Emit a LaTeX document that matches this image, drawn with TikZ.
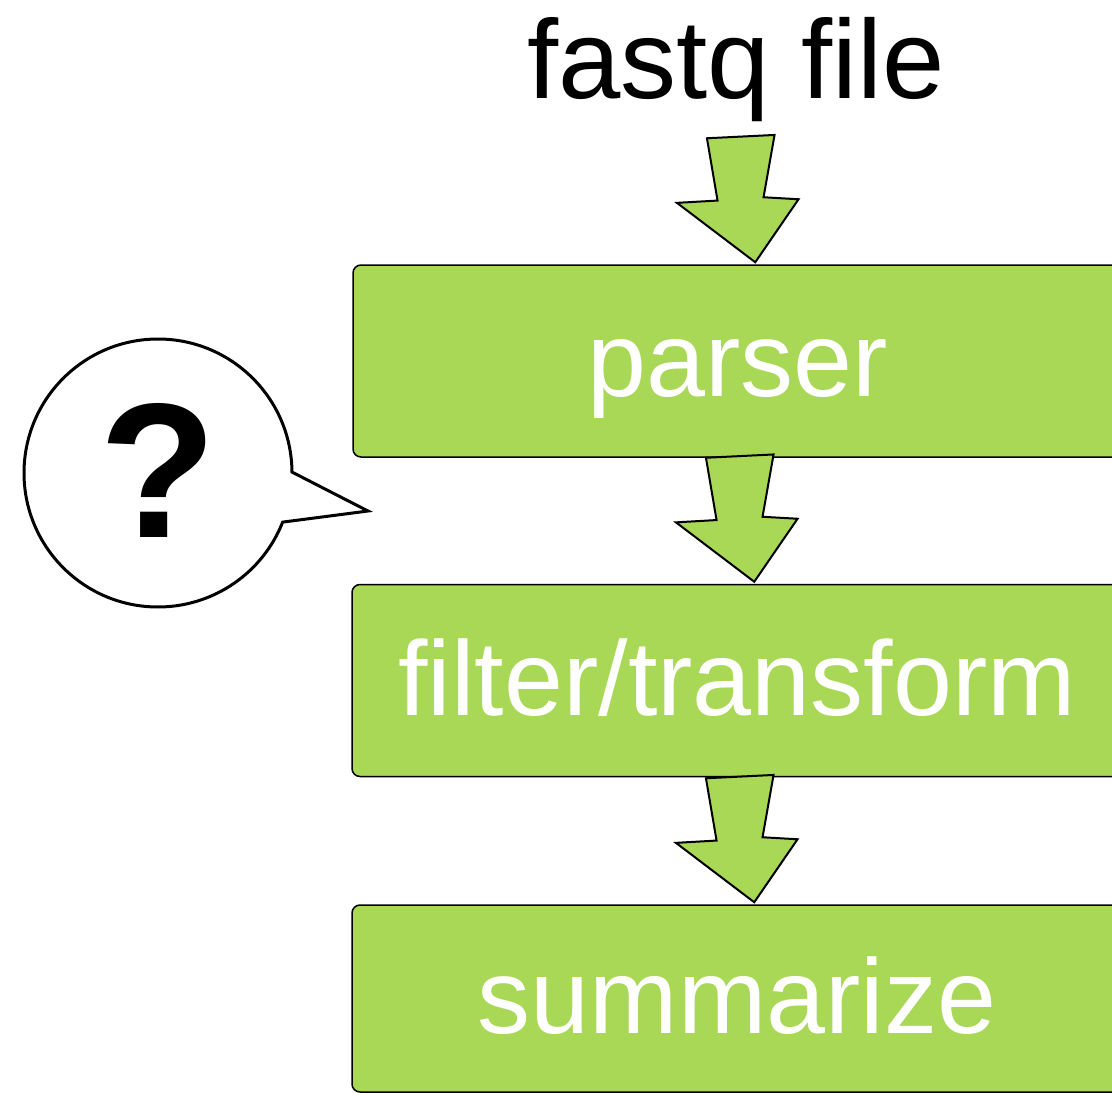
\documentclass[tikz,border=0pt]{standalone}
\usepackage{fontspec}
\setmainfont{Liberation Sans}
\usetikzlibrary{calc}
\definecolor{boxgreen}{RGB}{168,216,86}
\tikzset{
  stagebox/.style={draw=black, line width=1.5pt, fill=boxgreen, rounded corners=8pt,
    minimum width=770pt, minimum height=192pt, inner sep=0pt,
    text=white, text height=84pt, text depth=14pt,
    font=\fontsize{106}{120}\selectfont},
  blockarrow/.style={draw=black, line width=2pt, fill=boxgreen, line join=miter},
  bubble/.style={draw=black, line width=3pt, fill=white, line join=miter}
}
\begin{document}
\begin{tikzpicture}[x=1pt,y=1pt]
\useasboundingbox (0,0) rectangle (1112,-1093);
\clip (0,0) rectangle (1112,-1093);
% title
\node[anchor=base, inner sep=0pt, font=\fontsize{112}{120}\selectfont] (title) at (736,-98) {fastq file};
% boxes
\node[stagebox] (parser) at (738,-361) {parser};
\node[stagebox] (filter) at (737,-680.5) {filter/transform};
\node[stagebox, minimum height=187pt] (summ) at (737,-998.5) {summarize};
% block arrows: tip placed on the top of the box below
\foreach \src/\dst in {title/parser, parser/filter, filter/summ}{
  \coordinate (tip) at ($(\dst.north west)+(403,2)$);
  \draw[blockarrow] (tip) -- ++(-78.3,59.4) -- ++(40.6,2.3) -- ++(-10.6,62.3)
     -- ++(67.6,3.3) -- ++(-11,-62.3) -- ++(35,-2) -- cycle;
}
% speech bubble
\coordinate (bc) at (158,-473);
\draw[bubble] ($(bc)+(0.4:134)$) arc[start angle=0.4, end angle=338.5, radius=134pt]
   -- (368,-511) -- cycle;
\node[anchor=base, inner sep=0pt, font=\fontsize{192}{200}\selectfont\bfseries] (q) at (158,-537) {?};
\end{tikzpicture}
\end{document}
